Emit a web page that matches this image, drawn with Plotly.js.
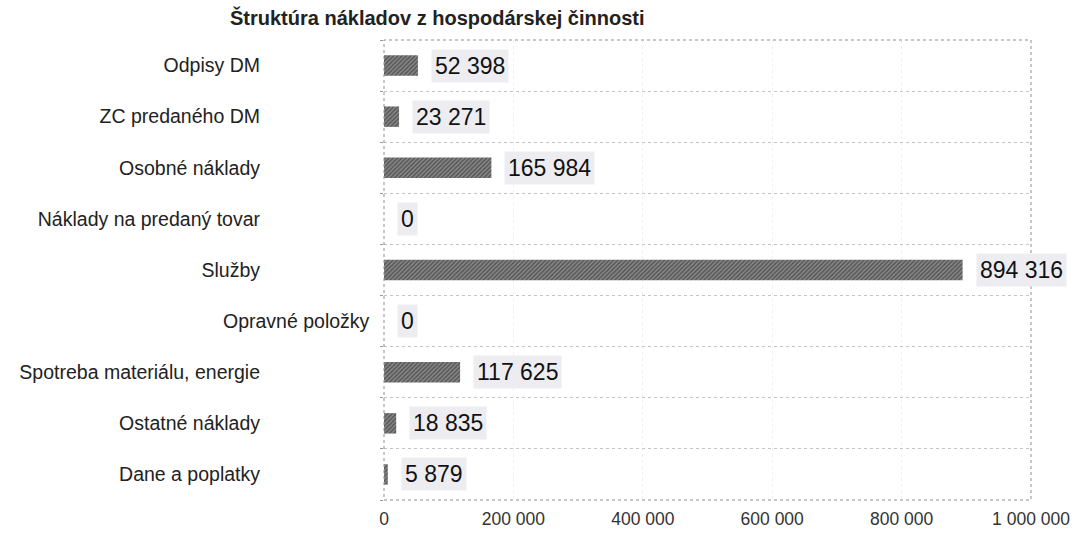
<!DOCTYPE html>
<html>
<head>
<meta charset="utf-8">
<script src="https://cdn.plot.ly/plotly-3.0.1.min.js"></script>
<style>
  body { margin: 0; background: #fff; }
  #chart { width: 1081px; height: 535px; }
</style>
</head>
<body>
<div id="chart"></div>
<script>
// categories top to bottom, as in the picture
const categories = [
  "Odpisy DM",
  "ZC predaného DM",
  "Osobné náklady",
  "Náklady na predaný tovar",
  "Služby",
  "Opravné položky",
  "Spotreba materiálu, energie",
  "Ostatné náklady",
  "Dane a poplatky"
];
const values = [52398, 23271, 165984, 0, 894316, 0, 117625, 18835, 5879];
const xTicks = [0, 200000, 400000, 600000, 800000, 1000000];
const chartTitle = "Štruktúra nákladov z hospodárskej činnosti";

const font = "Liberation Sans, Arial, sans-serif";
// in the scan this one label sits right next to the axis
const oddLabel = "Opravné položky";

function fmt(n) {
  return String(n).replace(/\B(?=(\d{3})+(?!\d))/g, " ");
}

const trace = {
  type: "bar",
  orientation: "h",
  x: values,
  y: categories,
  marker: {
    color: "#737373",
    line: { width: 0 },
    pattern: { shape: "/", fgcolor: "#555555", bgcolor: "#8a8a8a", size: 3, solidity: 0.5 }
  },
  hoverinfo: "x+y"
};

// value labels next to each bar
const annotations = categories.map((c, i) => ({
  x: values[i],
  y: c,
  xref: "x",
  yref: "y",
  text: fmt(values[i]),
  showarrow: false,
  xanchor: "left",
  xshift: 13,
  bgcolor: "#ededf1",
  borderpad: 3,
  font: { family: font, size: 23, color: "#111" }
}));

annotations.push({
  x: 0,
  y: oddLabel,
  xref: "paper",
  yref: "y",
  text: oddLabel,
  showarrow: false,
  xanchor: "right",
  xshift: -12,
  font: { family: font, size: 19.5, color: "#222" }
});

const layout = {
  width: 1081,
  height: 535,
  paper_bgcolor: "#fff",
  plot_bgcolor: "#fff",
  margin: { l: 384, r: 50, t: 40, b: 35 },
  showlegend: false,
  bargap: 0.6,
  title: {
    text: "<b>" + chartTitle + "</b>",
    xref: "container",
    x: 230 / 1081,
    xanchor: "left",
    yref: "container",
    y: 1 - 18 / 535,
    yanchor: "middle",
    font: { family: font, size: 20, color: "#222" }
  },
  xaxis: {
    range: [0, 1000000],
    tickvals: xTicks,
    ticktext: xTicks.map(fmt),
    tickfont: { family: font, size: 17.5, color: "#333" },
    ticklabelstandoff: 6,
    showgrid: true,
    gridcolor: "#f0f0f3",
    griddash: "dot",
    gridwidth: 1,
    zeroline: false,
    showline: false,
    ticks: "",
    fixedrange: true
  },
  yaxis: {
    type: "category",
    categoryorder: "array",
    categoryarray: categories,
    tickvals: categories,
    ticktext: categories.map(c => c === oddLabel ? "" : c),
    autorange: "reversed",
    tickson: "boundaries",
    ticks: "outside",
    ticklen: 3,
    tickcolor: "#999",
    ticklabelstandoff: 123,
    tickfont: { family: font, size: 19.5, color: "#222" },
    showgrid: true,
    gridcolor: "#c4c4c4",
    griddash: "dot",
    zeroline: false,
    showline: false,
    automargin: false,
    fixedrange: true
  },
  shapes: [{
    type: "rect",
    xref: "paper", yref: "paper",
    x0: 0, x1: 1, y0: 0, y1: 1,
    line: { color: "#8f8f8f", width: 1, dash: "dot" },
    layer: "above"
  }],
  annotations: annotations
};

Plotly.newPlot("chart", [trace], layout, { displayModeBar: false, staticPlot: true });
</script>
</body>
</html>
